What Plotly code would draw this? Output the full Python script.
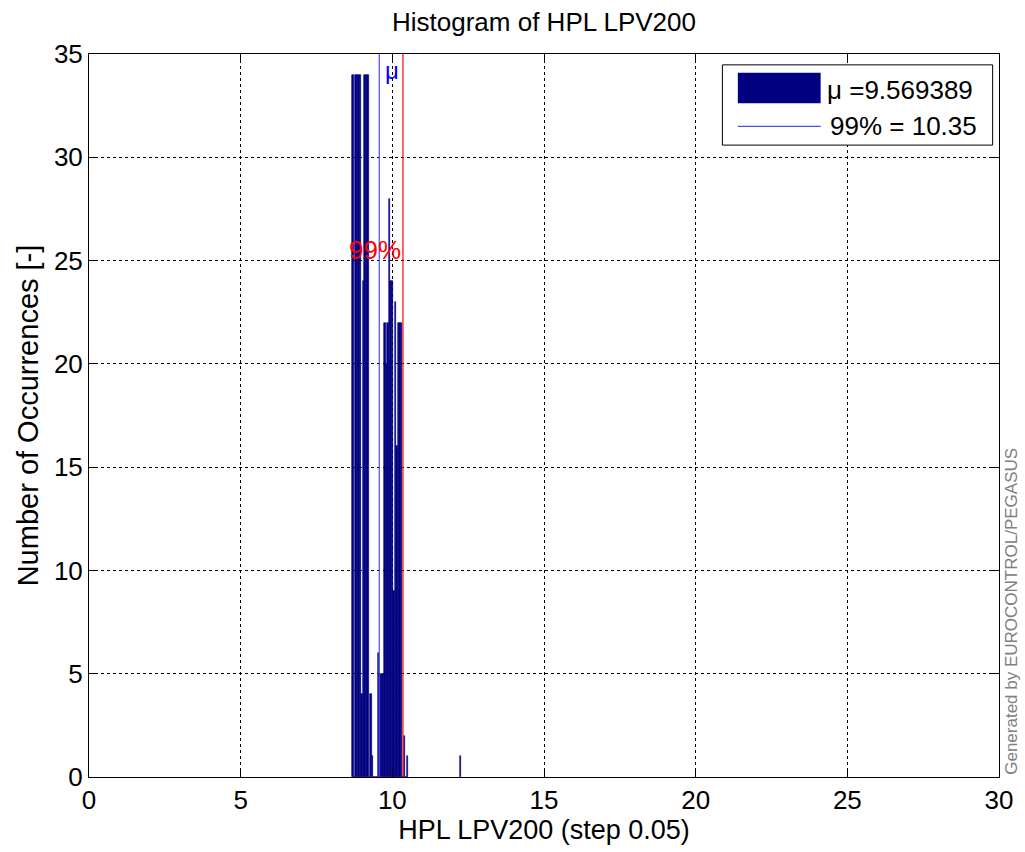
import plotly.graph_objects as go

# ---- data ----
bin_centers = [8.70, 8.75, 8.80, 8.85, 8.90, 8.95, 9.00, 9.05, 9.10, 9.15, 9.20, 9.25,
               9.30, 9.35, 9.40, 9.45, 9.50, 9.55, 9.60, 9.65, 9.70, 9.75, 9.80, 9.85,
               9.90, 9.95, 10.00, 10.05, 10.10, 10.15, 10.20, 10.25, 10.30, 10.35,
               10.40, 10.45, 10.50, 12.25]
counts = [34, 0, 34, 34, 34, 34, 4, 24, 34, 34, 34, 0,
          4, 1, 0, 0, 0, 6, 5, 5, 5, 22, 20, 22,
          28, 24, 24, 9, 23, 16, 22, 22, 22, 0,
          2, 0, 1, 1]
step = 0.05
mean_val = 9.569389
p99_val = 10.35
x_ticks = [0, 5, 10, 15, 20, 25, 30]
y_ticks = [0, 5, 10, 15, 20, 25, 30, 35]

FONT = "Liberation Sans, Arial, sans-serif"
FS = 26

fig = go.Figure()
fig.add_trace(go.Bar(
    x=bin_centers, y=counts, width=[step] * len(bin_centers),
    marker=dict(color="#000080", line=dict(color="#000080", width=0.6)),
    showlegend=False,
))

# vertical lines for mean and 99%
fig.add_shape(type="line", xref="x", yref="paper", x0=mean_val, x1=mean_val, y0=0, y1=1,
              line=dict(color="#4a4aff", width=1.2), layer="above")
fig.add_shape(type="line", xref="x", yref="paper", x0=p99_val, x1=p99_val, y0=0, y1=1,
              line=dict(color="#ff0000", width=1.2), layer="above")

fig.add_annotation(x=mean_val, y=34.2, xref="x", yref="y", text="μ", showarrow=False,
                   xanchor="left", yanchor="middle", xshift=4,
                   font=dict(family=FONT, size=24, color="#0000ff"))
fig.add_annotation(x=p99_val, y=25.5, xref="x", yref="y", text="99%", showarrow=False,
                   xanchor="right", yanchor="middle", xshift=0,
                   font=dict(family=FONT, size=FS, color="#ff0000"))

# legend box (manual, MATLAB-style)
fig.add_shape(type="rect", xref="paper", yref="paper", x0=0.696, x1=0.993, y0=0.874, y1=0.985,
              line=dict(color="black", width=1), fillcolor="white", layer="above")
fig.add_shape(type="rect", xref="paper", yref="paper", x0=0.713, x1=0.804, y0=0.932, y1=0.974,
              line=dict(color="#000080", width=0), fillcolor="#000080", layer="above")
fig.add_shape(type="line", xref="paper", yref="paper", x0=0.713, x1=0.804, y0=0.900, y1=0.900,
              line=dict(color="#4a4aff", width=1.2), layer="above")
fig.add_annotation(x=0.8085, y=0.950, xref="paper", yref="paper",
                   text="μ =%.6f" % mean_val, showarrow=False, xanchor="left", yanchor="middle",
                   font=dict(family=FONT, size=FS, color="black"))
fig.add_annotation(x=0.812, y=0.900, xref="paper", yref="paper",
                   text="99%% = %.2f" % p99_val, showarrow=False, xanchor="left", yanchor="middle",
                   font=dict(family=FONT, size=FS, color="black"))

# watermark
fig.add_annotation(x=1.0135, y=0.0, xref="paper", yref="paper",
                   text="Generated by EUROCONTROL/PEGASUS", showarrow=False, textangle=-90,
                   xanchor="center", yanchor="bottom",
                   font=dict(family=FONT, size=17, color="#808080"))

fig.update_layout(
    width=1025, height=852,
    margin=dict(l=89, r=22, t=54, b=75),
    paper_bgcolor="white", plot_bgcolor="white",
    bargap=0,
    title=dict(text="Histogram of HPL LPV200", xref="paper", x=0.5, xanchor="center",
               y=1 - 22 / 852, yanchor="middle",
               font=dict(family=FONT, size=FS, color="black")),
    font=dict(family=FONT, size=FS, color="black"),
)
fig.update_xaxes(
    range=[0, 30], tickvals=x_ticks, ticktext=[str(v) for v in x_ticks],
    showline=True, linecolor="black", linewidth=1, mirror="ticks",
    ticks="inside", ticklen=8, tickcolor="black",
    showgrid=True, gridcolor="black", griddash="dot", gridwidth=1,
    zeroline=False, tickfont=dict(family=FONT, size=FS),
    title=dict(text="HPL LPV200 (step 0.05)", font=dict(family=FONT, size=27), standoff=2),
)
fig.update_yaxes(
    range=[0, 35], tickvals=y_ticks, ticktext=[str(v) for v in y_ticks],
    showline=True, linecolor="black", linewidth=1, mirror="ticks",
    ticks="inside", ticklen=8, tickcolor="black",
    showgrid=True, gridcolor="black", griddash="dot", gridwidth=1,
    zeroline=False, tickfont=dict(family=FONT, size=FS),
    title=dict(text="Number of Occurrences [-]", font=dict(family=FONT, size=29), standoff=6),
)

fig.write_html("out.html", config={"displayModeBar": False},
               post_script="document.body.style.margin='0';document.body.style.overflow='hidden';")
